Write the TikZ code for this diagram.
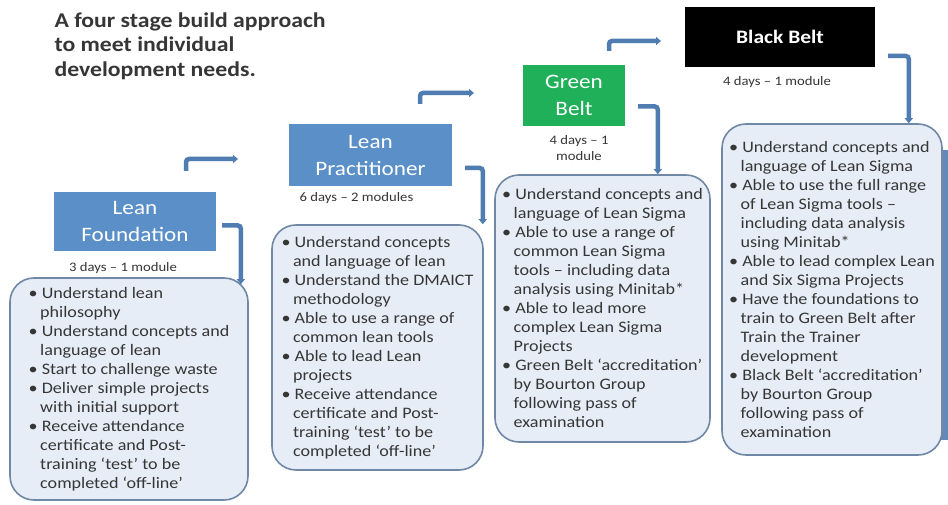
\documentclass[tikz,border=0pt]{standalone}
\usepackage{fontspec}
\setmainfont{Carlito}[FakeStretch=1.13]
\usepackage{xcolor}
\usepackage{tikz}
\usetikzlibrary{arrows.meta, positioning}
\definecolor{stageblue}{HTML}{5B8FC8}
\definecolor{stagegreen}{HTML}{21B05A}
\definecolor{arrowblue}{HTML}{4F7DB1}
\definecolor{panelfill}{HTML}{E6EDF6}
\definecolor{panelline}{HTML}{7088A6}
\definecolor{textgrey}{HTML}{363636}
\tikzstyle{stage} = [rectangle, text=white, align=center, inner sep=0pt, font=\fontsize{20.5}{27}\selectfont]
\tikzstyle{days} = [text=textgrey, align=center, inner sep=1pt, font=\fontsize{13}{16}\selectfont]
\tikzstyle{panel} = [rectangle, draw=panelline, fill=panelfill, rounded corners=24pt, line width=1.6pt, align=left, inner sep=0pt, text=textgrey, font=\fontsize{16}{19}\selectfont]
\tikzstyle{bent} = [draw=arrowblue, line width=4.5pt, rounded corners=3pt, -{Triangle[length=5pt,width=8pt]}]
\newcommand{\hg}{\hspace*{0.72em}}

\begin{document}
\begin{tikzpicture}[x=1pt, y=-1pt]
            \useasboundingbox[fill=white] (0,0) rectangle (948,505);
            % Title
            \node[anchor=west, align=left, text=textgrey, font=\bfseries\fontsize{21}{24.5}\selectfont] (title) at (51,46) {A four stage build approach\\to meet individual\\development needs.};

            % Nodes
            \node[stage, fill=stageblue, minimum width=162pt, minimum height=59pt] (found) at (135,221.5) {Lean\\Foundation};
            \node[stage, fill=stageblue, minimum width=163pt, minimum height=62pt] (prac) at (370.5,155) {Lean\\Practitioner};
            \node[stage, fill=stagegreen, minimum width=102pt, minimum height=61pt] (green) at (574,95.5) {Green\\Belt};
            \node[stage, fill=black, minimum width=190pt, minimum height=60pt, font=\bfseries\fontsize{19}{24}\selectfont] (black) at (780,37) {Black Belt};

            \node[days, below=10pt of found, xshift=-12pt] (founddays) {3 days – 1 module};
            \node[days, below=5pt of prac, xshift=-14pt] (pracdays) {6 days – 2 modules};
            \node[days, below=8pt of green, xshift=5pt] (greendays) {4 days – 1\\module};
            \node[days, below=8pt of black, xshift=-3pt] (blackdays) {4 days – 1 module};

            % side bar
            \fill[arrowblue!90] (938,150) rectangle (948,440);

            \node[panel, minimum width=238pt, minimum height=222pt] (foundbox) at (129,389) {%
                • Understand lean\\ \hg philosophy\\
                • Understand concepts and\\ \hg language of lean\\
                • Start to challenge waste\\
                • Deliver simple projects\\ \hg with initial support\\
                • Receive attendance\\ \hg certificate and Post-\\ \hg training ‘test’ to be\\ \hg completed ‘off-line’};
            \node[panel, minimum width=211pt, minimum height=245pt] (pracbox) at (377.5,347.5) {%
                • Understand concepts\\ \hg and language of lean\\
                • Understand the DMAICT\\ \hg methodology\\
                • Able to use a range of\\ \hg common lean tools\\
                • Able to lead Lean\\ \hg projects\\
                • Receive attendance\\ \hg certificate and Post-\\ \hg training ‘test’ to be\\ \hg completed ‘off-line’};
            \node[panel, minimum width=215pt, minimum height=267pt] (greenbox) at (602.5,308.5) {%
                • Understand concepts and\\ \hg language of Lean Sigma\\
                • Able to use a range of\\ \hg common Lean Sigma\\ \hg tools – including data\\ \hg analysis using Minitab*\\
                • Able to lead more\\ \hg complex Lean Sigma\\ \hg Projects\\
                • Green Belt ‘accreditation’\\ \hg by Bourton Group\\ \hg following pass of\\ \hg examination};
            \node[panel, minimum width=220pt, minimum height=331pt] (blackbox) at (832,289.5) {%
                • Understand concepts and\\ \hg language of Lean Sigma\\
                • Able to use the full range\\ \hg of Lean Sigma tools –\\ \hg including data analysis\\ \hg using Minitab*\\
                • Able to lead complex Lean\\ \hg and Six Sigma Projects\\
                • Have the foundations to\\ \hg train to Green Belt after\\ \hg Train the Trainer\\ \hg development\\
                • Black Belt ‘accreditation’\\ \hg by Bourton Group\\ \hg following pass of\\ \hg examination};

            % step-up arrows
            \coordinate (up1a) at (186,171);
            \coordinate (up1b) at (238,159);
            \coordinate (up2a) at (420,104);
            \coordinate (up2b) at (474,93);
            \coordinate (up3a) at (609,51);
            \coordinate (up3b) at (661,41);

            % Edges
            \draw[bent] ([xshift=6pt,yshift=-4pt]found.east) -| ([xshift=-8pt,yshift=-7pt]foundbox.north east);
            \draw[bent] ([xshift=13pt,yshift=-13pt]prac.east) -| ([xshift=-1pt]pracbox.north east);
            \draw[bent] ([xshift=13pt,yshift=-11pt]green.east) -| ([xshift=-53pt]greenbox.north east);
            \draw[bent] ([xshift=13pt,yshift=-19pt]black.east) -| ([xshift=-34pt]blackbox.north east);
            \draw[bent] (up1a) |- (up1b);
            \draw[bent] (up2a) |- (up2b);
            \draw[bent] (up3a) |- (up3b);
        \end{tikzpicture}
\end{document}
